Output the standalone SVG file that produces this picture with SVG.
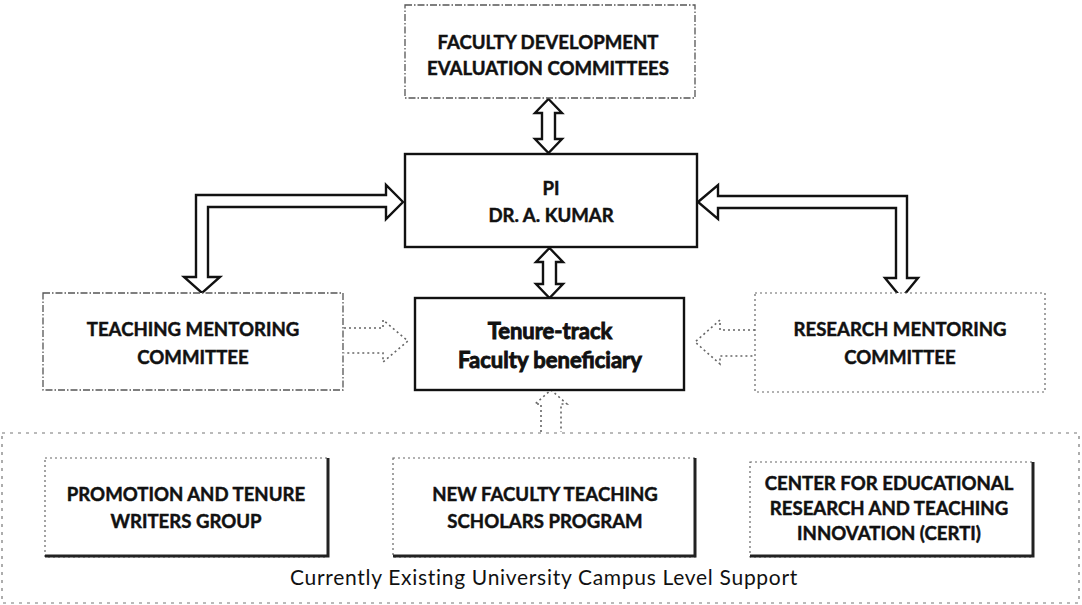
<svg xmlns="http://www.w3.org/2000/svg" width="1082" height="605" viewBox="0 0 1082 605">
  <style>
    .bg { fill: #ffffff; }
    .solid { fill: #ffffff; stroke: #111; stroke-width: 2.4; }
    .dash { fill: #ffffff; stroke: #555; stroke-width: 1.3; stroke-dasharray: 7 2 1.5 2; }
    .dotbox { fill: #ffffff; stroke: #666; stroke-width: 1.2; stroke-dasharray: 2 3; }
    .shadow { fill: none; stroke: #222; stroke-width: 3; }
    .region { fill: none; stroke: #777; stroke-width: 1.2; stroke-dasharray: 3 5; }
    .hollow { fill: #ffffff; stroke: #111; stroke-width: 2.4; stroke-linejoin: miter; }
    .dotted { fill: none; stroke: #666; stroke-width: 1.6; stroke-dasharray: 2 3; }
    .t { font-family: Lato, "Open Sans", "DejaVu Sans", sans-serif; font-weight: bold; font-size: 18.6px; fill: #111; stroke: #111; stroke-width: 0.45; text-anchor: middle; }
    .t2 { font-family: Lato, "Open Sans", "DejaVu Sans", sans-serif; font-weight: bold; font-size: 22px; fill: #111; stroke: #111; stroke-width: 0.9; text-anchor: middle; }
    .lbl { font-family: Lato, "Open Sans", "DejaVu Sans", sans-serif; font-size: 21px; letter-spacing: 0.7px; fill: #111; text-anchor: middle; }
  </style>
  <rect class="bg" x="0" y="0" width="1082" height="605"/>

  <!-- campus-level support region -->
  <g id="campus-support">
    <rect class="region" x="2" y="433" width="1077" height="170"/>
    <text class="lbl" x="544" y="585">Currently Existing University Campus Level Support</text>
  </g>

  <!-- connectors -->
  <g id="connectors">
    <!-- evaluation committees <-> PI -->
    <polygon class="hollow" points="548.5,99 562,113 555,113 555,139 562,139 548.5,153 535,139 542,139 542,113 535,113"/>
    <!-- PI <-> beneficiary -->
    <polygon class="hollow" points="549.5,248 563,262 556,262 556,284 563,284 549.5,298 536,284 543,284 543,262 536,262"/>
    <!-- PI <-> teaching mentoring -->
    <polygon class="hollow" points="403,202 386,185 386,195 196,195 196,277 184,277 202,293 220,277 208,277 208,207 386,207 386,219"/>
    <!-- PI <-> research mentoring -->
    <polygon class="hollow" points="698,202 718,185 718,196 907,196 907,278 918,278 901.5,298 885,278 896,278 896,208 718,208 718,219"/>
    <!-- teaching mentoring -> beneficiary -->
    <polyline class="dotted" points="344,328 383,328 383,320 408,341 383,362 383,353 344,353"/>
    <!-- research mentoring -> beneficiary -->
    <polyline class="dotted" points="755,330 720,330 720,320 695,342 720,364 720,356 755,356"/>
    <!-- campus support -> beneficiary -->
    <polyline class="dotted" points="541,432 541,404 535,404 551,390 567,404 561,404 561,432"/>
  </g>

  <g id="faculty-development">
    <rect class="dash" x="405" y="5" width="290" height="93"/>
    <text class="t" x="548" y="49">FACULTY DEVELOPMENT</text>
    <text class="t" x="548" y="75">EVALUATION COMMITTEES</text>
  </g>

  <g id="pi">
    <rect class="solid" x="405" y="154" width="292" height="93"/>
    <text class="t" x="551" y="195">PI</text>
    <text class="t" x="551" y="222">DR. A. KUMAR</text>
  </g>

  <g id="teaching-mentoring">
    <rect class="dash" x="43" y="293" width="300" height="97"/>
    <text class="t" x="193" y="336">TEACHING MENTORING</text>
    <text class="t" x="193" y="364">COMMITTEE</text>
  </g>

  <g id="beneficiary">
    <rect class="solid" x="415" y="298" width="269" height="92"/>
    <text class="t2" x="550" y="339">Tenure-track</text>
    <text class="t2" x="550" y="368">Faculty beneficiary</text>
  </g>

  <g id="research-mentoring">
    <rect class="dotbox" x="755" y="293" width="290" height="99"/>
    <text class="t" x="900" y="336">RESEARCH MENTORING</text>
    <text class="t" x="900" y="364">COMMITTEE</text>
  </g>

  <g id="writers-group">
    <rect class="dotbox" x="45" y="458" width="283" height="99"/>
    <polyline class="shadow" points="45,556 328,556 328,458"/>
    <text class="t" x="186" y="501">PROMOTION AND TENURE</text>
    <text class="t" x="186" y="528">WRITERS GROUP</text>
  </g>

  <g id="teaching-scholars">
    <rect class="dotbox" x="393" y="458" width="302" height="99"/>
    <polyline class="shadow" points="393,556 695,556 695,458"/>
    <text class="t" x="545" y="501">NEW FACULTY TEACHING</text>
    <text class="t" x="545" y="528">SCHOLARS PROGRAM</text>
  </g>

  <g id="certi">
    <rect class="dotbox" x="750" y="462" width="283" height="95"/>
    <polyline class="shadow" points="750,556 1033,556 1033,462"/>
    <text class="t" x="889" y="490">CENTER FOR EDUCATIONAL</text>
    <text class="t" x="889" y="515">RESEARCH AND TEACHING</text>
    <text class="t" x="889" y="540">INNOVATION (CERTI)</text>
  </g>
</svg>
